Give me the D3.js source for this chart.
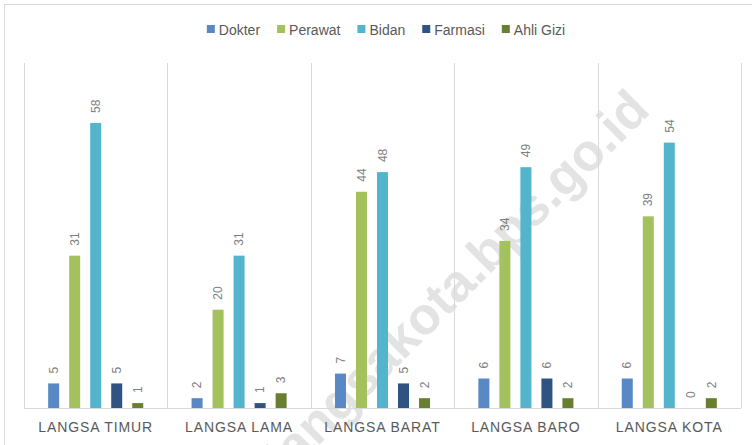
<html>
  <head>
    <style>
      body { margin: 0; background: #fff; }
      text { font-family: "Liberation Sans", Arial, sans-serif; }
    </style>
  </head>
  <body>
    <script src="https://d3js.org/d3.v7.min.js"></script>
    <script>
    var width = 752, height = 445;

    var categories = ["LANGSA TIMUR", "LANGSA LAMA", "LANGSA BARAT", "LANGSA BARO", "LANGSA KOTA"];
    var series = ["Dokter", "Perawat", "Bidan", "Farmasi", "Ahli Gizi"];
    var dokter  = [5, 2, 7, 6, 6];
    var perawat = [31, 20, 44, 34, 39];
    var bidan   = [58, 31, 48, 49, 54];
    var farmasi = [5, 1, 5, 6, 0];
    var ahliGizi = [1, 3, 2, 2, 2];
    var values = [dokter, perawat, bidan, farmasi, ahliGizi];
    var colors = ["#5889c5", "#a3c15c", "#54b4cc", "#2f5482", "#6a7e32"];

    var svg = d3.select("body")
        .append("svg")
        .attr("width", width)
        .attr("height", height);

    // frame
    svg.append("rect")
        .attr("x", 4.5).attr("y", 4.5)
        .attr("width", 800).attr("height", 500)
        .attr("fill", "none")
        .attr("stroke", "#d9d9d9");

    // watermark (sits behind the bars)
    svg.append("text")
        .attr("transform", "translate(652,112) rotate(-45)")
        .attr("text-anchor", "end")
        .attr("font-size", 52)
        .attr("font-weight", "bold")
        .attr("fill", "#e3e3e3")
        .text("langsakota.bps.go.id");

    var x0 = d3.scaleBand().domain(categories).range([24, 741]);
    var x1 = d3.scaleBand().domain(series).range([0, x0.bandwidth()])
        .paddingInner(0.476).paddingOuter(1.15);
    var y = d3.scaleLinear().domain([0, 70]).range([408, 64]);

    // vertical separators
    var seps = categories.map(function(c) { return x0(c); }).concat([x0.range()[1]]);
    svg.append("g").selectAll("line")
        .data(seps)
        .enter().append("line")
          .attr("x1", function(d) { return Math.round(d) + 0.5; })
          .attr("x2", function(d) { return Math.round(d) + 0.5; })
          .attr("y1", y(70) - 1)
          .attr("y2", y(0))
          .attr("stroke", "#d9d9d9");

    svg.append("line")
        .attr("x1", 24).attr("x2", 741)
        .attr("y1", y(0) + 0.5).attr("y2", y(0) + 0.5)
        .attr("stroke", "#d9d9d9");

    // bars
    var rows = [];
    categories.forEach(function(c, i) {
      series.forEach(function(s, j) {
        rows.push({cat: c, ser: s, j: j, v: values[j][i]});
      });
    });

    var g = svg.append("g");
    g.selectAll("rect")
        .data(rows)
        .enter().append("rect")
          .attr("x", function(d) { return x0(d.cat) + x1(d.ser); })
          .attr("y", function(d) { return y(d.v); })
          .attr("width", x1.bandwidth())
          .attr("height", function(d) { return y(0) - y(d.v); })
          .attr("fill", function(d) { return colors[d.j]; });

    g.selectAll("text")
        .data(rows)
        .enter().append("text")
          .attr("transform", function(d) {
            var cx = x0(d.cat) + x1(d.ser) + x1.bandwidth() / 2;
            return "translate(" + cx + "," + (y(d.v) - 10) + ") rotate(-90)";
          })
          .attr("dy", "0.35em")
          .attr("font-size", 12)
          .attr("fill", "#7f7f7f")
          .text(function(d) { return d.v; });

    // category labels
    svg.append("g").selectAll("text")
        .data(categories)
        .enter().append("text")
          .attr("x", function(d) { return x0(d) + x0.bandwidth() / 2; })
          .attr("y", 432)
          .attr("text-anchor", "middle")
          .attr("font-size", 14)
          .attr("letter-spacing", 0.9)
          .attr("fill", "#595959")
          .text(function(d) { return d; });

    // legend
    var legend = svg.append("g");
    var lx = 0;
    series.forEach(function(s, j) {
      legend.append("rect")
          .attr("x", lx).attr("y", 25)
          .attr("width", 8).attr("height", 8)
          .attr("fill", colors[j]);
      var t = legend.append("text")
          .attr("x", lx + 12).attr("y", 34.5)
          .attr("font-size", 14)
          .attr("fill", "#595959")
          .text(s);
      lx += 12 + t.node().getComputedTextLength() + 17;
    });
    var lw = lx - 17;
    legend.attr("transform", "translate(" + (386 - lw / 2) + ",0)");
    </script>
  </body>
</html>
